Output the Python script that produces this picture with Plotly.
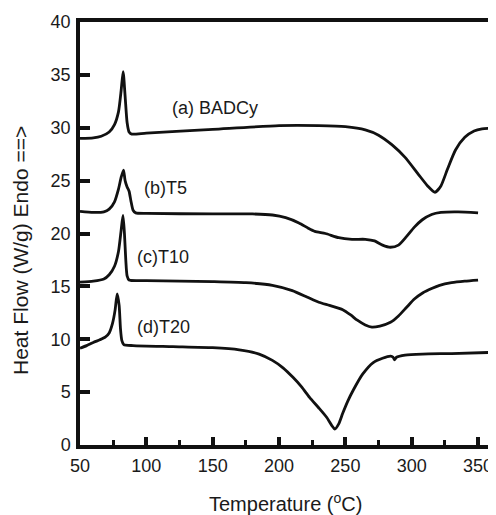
import plotly.graph_objects as go

# (a) BADCy
xa = [50, 60, 66, 72, 76, 79, 81, 82.5, 84, 85.5, 87, 89, 100, 150, 200, 230, 250, 265, 275, 285, 295, 305, 312, 317.5, 322, 327, 333, 340, 347, 353, 359]
ya = [29.0, 29.05, 29.2, 29.6, 30.3, 31.5, 33.5, 35.3, 33.0, 30.5, 29.6, 29.4, 29.5, 29.85, 30.2, 30.2, 30.1, 29.8, 29.3, 28.4, 27.2, 25.6, 24.5, 23.9, 24.5, 26.1, 27.9, 29.1, 29.7, 29.9, 29.95]

# (b) T5
xb = [50, 60, 68, 72, 76, 79, 81, 82.8, 84, 85.5, 87, 88.5, 90, 92, 100, 150, 180, 195, 205, 215, 222, 227, 235, 245, 255, 265, 272, 278, 284, 290, 296, 302, 308, 315, 322, 335, 350]
yb = [22.1, 22.0, 22.05, 22.3, 23.0, 24.2, 25.3, 26.0, 25.0, 24.4, 24.0, 23.0, 22.2, 21.95, 21.9, 21.85, 21.85, 21.75, 21.5, 21.0, 20.5, 20.2, 20.0, 19.6, 19.45, 19.45, 19.3, 18.9, 18.7, 18.9, 19.7, 20.6, 21.3, 21.8, 22.0, 22.05, 21.95]

# (c) T10
xc = [50, 60, 68, 72, 76, 79, 81, 82.4, 83.5, 84.5, 85.5, 87, 100, 150, 175, 195, 210, 221, 230, 238, 248, 254, 259, 265, 270, 276, 284, 290, 296, 302, 308.5, 315, 321, 330, 340, 350]
yc = [15.4, 15.5, 15.7, 16.1, 16.9, 18.3, 20.3, 21.7, 20.0, 17.5, 16.0, 15.6, 15.55, 15.45, 15.35, 15.1, 14.6, 14.0, 13.5, 13.2, 12.8, 12.3, 11.8, 11.35, 11.15, 11.25, 11.6, 12.2, 13.0, 13.8, 14.4, 14.8, 15.1, 15.35, 15.5, 15.6]

# (d) T20
xd = [50, 55, 60, 65, 69, 72, 74.5, 76.5, 78, 79.5, 80.5, 81.5, 83, 90, 120, 150, 170, 185, 195, 203, 210.5, 217, 223, 230, 236, 240, 242, 245, 248, 252, 256, 263, 271, 278, 284, 286, 287, 288.5, 295, 308, 330, 359]
yd = [9.15, 9.4, 9.7, 9.95, 10.2, 10.6, 11.5, 12.8, 14.3, 13.2, 11.0, 9.9, 9.5, 9.4, 9.3, 9.2, 9.0, 8.6, 8.0, 7.3, 6.4, 5.5, 4.5, 3.5, 2.6, 1.8, 1.5, 2.0, 3.0, 4.2, 5.2, 6.7, 7.8, 8.2, 8.4, 8.3, 8.05, 8.3, 8.5, 8.6, 8.65, 8.75]

labels = ["(a) BADCy", "(b)T5", "(c)T10", "(d)T20"]
label_x = [118, 97, 91.5, 91.5]
label_y = [31.9, 24.3, 17.8, 11.2]

x_ticks = [50, 100, 150, 200, 250, 300, 350]
y_ticks = [0, 5, 10, 15, 20, 25, 30, 35, 40]

FONT = "Liberation Sans, Arial, sans-serif"

fig = go.Figure()
for xs, ys in [(xa, ya), (xb, yb), (xc, yc), (xd, yd)]:
    fig.add_trace(go.Scatter(x=xs, y=ys, mode="lines",
                             line=dict(color="#111111", width=2.8, shape="spline", smoothing=0.6),
                             showlegend=False, hoverinfo="skip"))

for t, lx, ly in zip(labels, label_x, label_y):
    fig.add_annotation(x=lx, y=ly, text=t, showarrow=False, xanchor="left", yanchor="middle",
                       font=dict(family=FONT, size=18, color="#1a1a1a"))

fig.add_annotation(x=0.5, y=-0.137, xref="paper", yref="paper", yanchor="middle",
                   text="Temperature (<sup>o</sup>C)", showarrow=False,
                   font=dict(family=FONT, size=20, color="#1a1a1a"))
fig.add_annotation(x=-0.145, y=0.46, xref="paper", yref="paper", textangle=-90,
                   text="Heat Flow (W/g) Endo ==>", showarrow=False, xanchor="center", yanchor="middle",
                   font=dict(family=FONT, size=21, color="#1a1a1a"))

axis_font = dict(family=FONT, size=18, color="#1a1a1a")
fig.update_xaxes(range=[50, 359], tickvals=x_ticks, ticktext=[str(v) for v in x_ticks],
                 ticks="inside", ticklen=8, tickwidth=3.5, tickcolor="#111111",
                 minor=dict(ticks="inside", ticklen=5, tickwidth=3, dtick=25, tick0=50, tickcolor="#111111"),
                 showline=True, linewidth=3.5, linecolor="#111111", mirror=True, automargin=False,
                 showgrid=False, zeroline=False, tickfont=axis_font, ticklabelstandoff=2)
fig.update_yaxes(range=[0, 40], tickvals=y_ticks, ticktext=[str(v) for v in y_ticks],
                 ticks="inside", ticklen=10, tickwidth=3.5, tickcolor="#111111",
                 showline=True, linewidth=3.5, linecolor="#111111", mirror=True, automargin=False,
                 showgrid=False, zeroline=False, tickfont=axis_font, ticklabelstandoff=2)

# page body has an 8px default margin; size the figure so the plot area lands where the reference has it
fig.update_layout(width=488, height=507, margin=dict(l=72, r=6, t=14, b=70),
                  plot_bgcolor="white", paper_bgcolor="white")

fig.write_html("out.html")
